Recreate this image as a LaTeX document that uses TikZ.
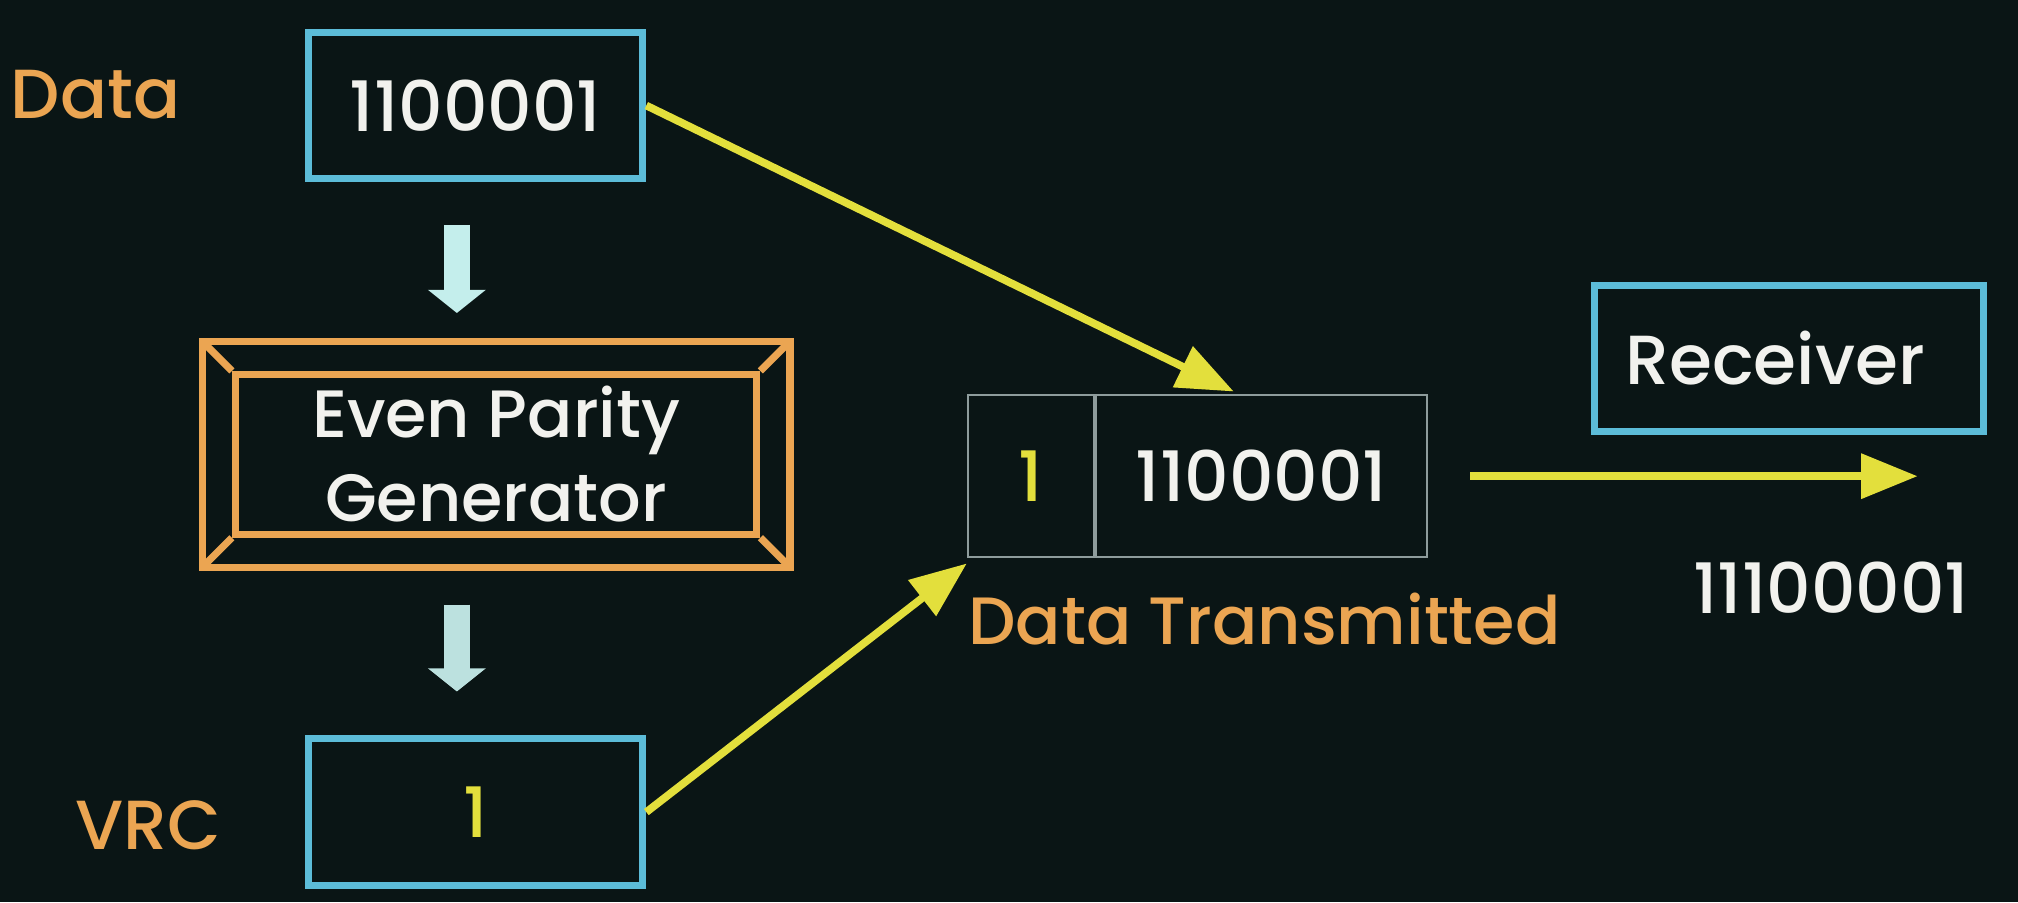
\documentclass[tikz,border=0pt]{standalone}
\usepackage{fontspec}
\setmainfont{Poppins}[UprightFont=* Medium]
\usetikzlibrary{arrows.meta,calc}

\definecolor{bgdark}{HTML}{0A1515}
\definecolor{boxcyan}{HTML}{5CBCD8}
\definecolor{tagorange}{HTML}{EBA552}
\definecolor{arrowyellow}{HTML}{E3DF3C}
\definecolor{blockcyan}{HTML}{C4EEEC}
\definecolor{cellgray}{HTML}{8E9C9C}
\definecolor{textwhite}{HTML}{F2F2EE}

\tikzset{
    bigtext/.style={font=\fontsize{27}{32}\selectfont},
    sidetext/.style={bigtext, text=tagorange, inner sep=0pt, anchor=base west},
    databox/.style={bigtext, draw=boxcyan, line width=2.7pt, text=textwhite,
        minimum width=130pt, minimum height=57pt},
    genline/.style={draw=tagorange, line width=2.8pt},
    cell/.style={bigtext, draw=cellgray, line width=0.8pt, text=textwhite, minimum height=63pt},
    yarrow/.style={draw=arrowyellow, line width=3pt, -{Triangle[length=22pt,width=17pt]}},
    downarrow/.style={draw=blockcyan, line width=10pt, -{Triangle[length=9pt,width=22pt]}},
}

\begin{document}
\begin{tikzpicture}[x=0.5pt, y=-0.5pt]
    % 背景
    \fill[bgdark] (0, 0) rectangle (1568, 701);
    \useasboundingbox (0, 0) rectangle (1568, 701);

    % ラベル
    \node[sidetext] (datatag) at (8, 92) {Data};
    \node[sidetext] (vrctag) at (58, 660) {VRC};

    % 箱
    \node[databox] (data) at (369.5, 82) {1100001};
    \node[genline, bigtext, text=textwhite, align=center, font=\fontsize{26}{32.5}\selectfont,
        minimum width=202.5pt, minimum height=62pt] (gen) at (385.5, 353) {Even Parity\\Generator};
    \node[databox, text=arrowyellow] (vrc) at (369.5, 631) {1};

    % 外枠
    \draw[genline] ($(gen.north west)+(-23, -23)$) rectangle ($(gen.south east)+(23, 23)$);
    \foreach \c/\dx/\dy in {north west/-23/-23, north east/23/-23, south west/-23/23, south east/23/23}
        \draw[genline] (gen.\c) -- ++(\dx, \dy);

    % 送信データ
    \node[cell, text=arrowyellow, minimum width=49pt] (par) at (801, 370) {1};
    \node[cell, minimum width=128.5pt, anchor=west] (bits) at (par.east) {1100001};
    \node[sidetext, font=\fontsize{26}{32}\selectfont] (txtag) at (752, 501) {Data Transmitted};

    % 受信側
    \node[databox, text width=127pt, align=left, inner xsep=12pt] (recv) at (1390, 278.5) {Receiver};
    \node[bigtext, text=textwhite] (rxbits) at (1423, 457) {11100001};
    \coordinate (rxend) at (1490, 370);

    % 矢印
    \draw[downarrow, shorten <=16.5pt, shorten >=22.5pt] ([xshift=-7.25pt]data.south) -- ([xshift=-15.25pt]gen.north);
    \draw[downarrow, draw=blockcyan!88!gray, shorten <=26pt, shorten >=17pt] ([xshift=-15.25pt]gen.south) -- ([xshift=-7.25pt]vrc.north);

    \draw[yarrow] (data.east) -- ([xshift=-10.75pt, yshift=1pt]bits.north);
    \draw[yarrow] (vrc.east) -- ([yshift=-2pt]par.south west);
    \draw[yarrow, shorten <=16.5pt] (bits.east) -- (rxend);

\end{tikzpicture}
\end{document}
